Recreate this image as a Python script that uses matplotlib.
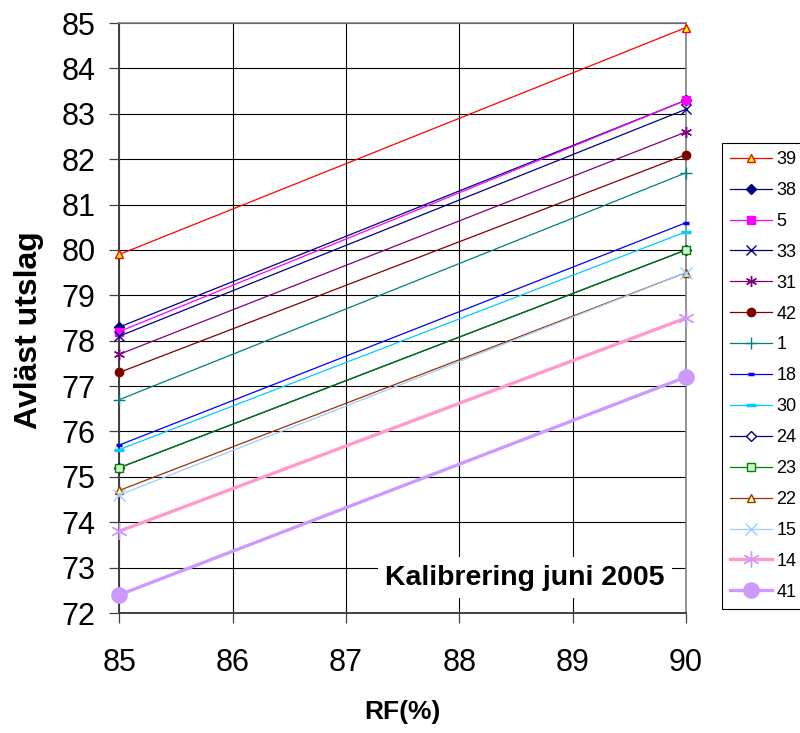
"""Calibration lines for humidity sensors, June 2005."""

import matplotlib.pyplot as plt

plt.rcParams["font.family"] = ["Liberation Sans", "DejaVu Sans"]

RF = [85, 90]

SENSORS = ["39", "38", "5", "33", "31", "42", "1", "18", "30", "24", "23", "22", "15", "14", "41"]
AT_85 = [79.9, 78.3, 78.2, 78.1, 77.7, 77.3, 76.7, 75.7, 75.6, 75.2, 75.2, 74.7, 74.6, 73.8, 72.4]
AT_90 = [84.9, 83.3, 83.3, 83.1, 82.6, 82.1, 81.7, 80.6, 80.4, 80.0, 80.0, 79.5, 79.5, 78.5, 77.2]

ASTERISK = (6, 2, 0)

# line colour, marker, marker face, marker edge, marker size, line width
STYLES = {
    "39": ("#FF0000", "^", "#FFFF00", "#FF0000", 6, 0.9),
    "38": ("#000080", "D", "#000080", "#000080", 5, 0.9),
    "5": ("#FF00FF", "s", "#FF00FF", "#FF00FF", 6, 0.9),
    "33": ("#000080", "x", "none", "#000080", 7, 0.9),
    "31": ("#800080", ASTERISK, "none", "#800080", 8, 0.9),
    "42": ("#800000", "o", "#800000", "#800000", 6, 0.9),
    "1": ("#008080", "+", "none", "#008080", 8, 0.9),
    "18": ("#0000FF", "_", "#0000FF", "#0000FF", 5, 0.9),
    "30": ("#00CCFF", "_", "#00CCFF", "#00CCFF", 7, 0.9),
    "24": ("#000080", "D", "#FFFFFF", "#000080", 5, 0.9),
    "23": ("#008000", "s", "#CCFFCC", "#008000", 6, 0.9),
    "22": ("#993300", "^", "#FFFF99", "#993300", 6, 0.9),
    "15": ("#99CCFF", "x", "none", "#99CCFF", 8, 0.9),
    "14": ("#FF99CC", ASTERISK, "none", "#CC99FF", 12, 2.4),
    "41": ("#CC99FF", "o", "#CC99FF", "#CC99FF", 11, 2.4),
}

fig = plt.figure(figsize=(8.0, 7.33), dpi=100)
ax = fig.add_axes([0.149, 0.1637, 0.7085, 0.8049])

for name, y0, y1 in zip(SENSORS, AT_85, AT_90):
    color, marker, face, edge, size, lw = STYLES[name]
    mew = 2.5 if marker == "_" else 1.0
    ax.plot(RF, [y0, y1], color=color, lw=lw, marker=marker, markersize=size,
            markerfacecolor=face, markeredgecolor=edge, markeredgewidth=mew,
            label=name, clip_on=False, zorder=3)

ax.set_xlim(85, 90)
ax.set_ylim(72, 85)
ax.set_xticks(range(85, 91))
ax.set_yticks(range(72, 86))
ax.grid(True, color="black", lw=0.8)
ax.set_axisbelow(True)

ax.tick_params(axis="both", labelsize=22, direction="out", length=7, width=0.9, color="#404040")
ax.tick_params(axis="x", pad=18)
ax.tick_params(axis="y", pad=10)

for side in ("left", "bottom"):
    ax.spines[side].set_color("#404040")
    ax.spines[side].set_linewidth(1.4)
for side in ("top", "right"):
    ax.spines[side].set_color("#808080")
    ax.spines[side].set_linewidth(1.2)

ax.set_xlabel("RF(%)", fontsize=19, fontweight="bold", labelpad=16)
ax.set_ylabel("Avläst utslag", fontsize=23, fontweight="bold")
ax.yaxis.set_label_coords(-0.133, 0.48)

ax.text(0.962, 0.06, "Kalibrering juni 2005", transform=ax.transAxes, ha="right", va="center",
        fontsize=20.5, fontweight="bold", zorder=4,
        bbox=dict(boxstyle="square,pad=0.25", facecolor="white", edgecolor="none"))

leg = fig.legend(loc="upper left", bbox_to_anchor=(0.9025, 0.805), fontsize=13,
                 handlelength=2.3, handletextpad=0.25, labelspacing=0.77,
                 borderpad=0.45, borderaxespad=0, fancybox=False, framealpha=1,
                 edgecolor="black")
leg.get_frame().set_linewidth(0.8)

fig.savefig("out.png", dpi=100, facecolor="white")
